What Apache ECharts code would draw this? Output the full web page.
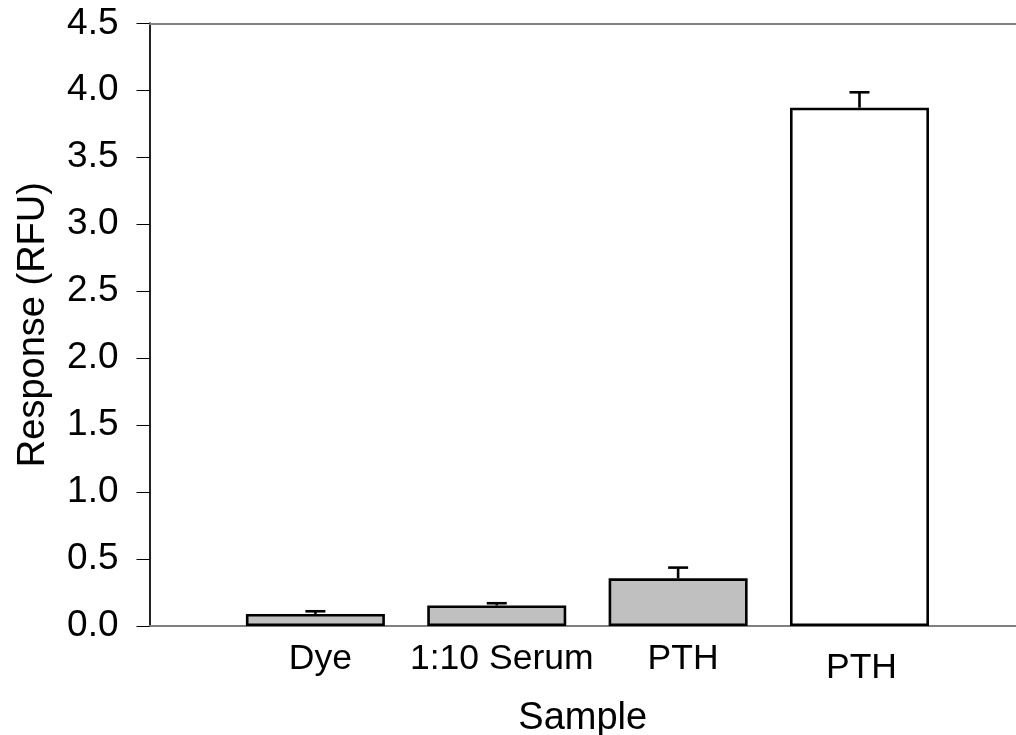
<!DOCTYPE html>
<html>
<head>
<meta charset="utf-8">
<script src="https://cdn.jsdelivr.net/npm/echarts@6/dist/echarts.min.js"></script>
<style>html,body{margin:0;padding:0;background:#fff;}#c{width:1016px;height:735px;}</style>
</head>
<body>
<div id="c"></div>
<script>
const categories = ['Dye', '1:10 Serum', 'PTH', 'PTH'];
const positions = [1, 2, 3, 4];
const values = [0.09, 0.153, 0.356, 3.87];
const errors = [0.02, 0.017, 0.08, 0.115];
const barColors = ['#c0c0c0', '#c0c0c0', '#c0c0c0', '#ffffff'];

const FONT = "'Liberation Sans', Arial, sans-serif";
const xMin = 0.0853, xMax = 4.863;

const chart = echarts.init(document.getElementById('c'), null, {renderer: 'canvas'});
const labelStyle = ['a', 'a', 'a', 'b'];

chart.setOption({
  animation: false,
  backgroundColor: '#fff',
  grid: {left: 149.5, top: 23.3, right: 0, bottom: 109, outerBoundsMode: 'none', containLabel: false},
  xAxis: [{
    type: 'value', min: xMin, max: xMax, position: 'bottom',
    splitLine: {show: false},
    axisLine: {show: true, onZero: false, lineStyle: {color: '#808080', width: 2}},
    axisTick: {show: false},
    axisLabel: {
      customValues: positions,
      margin: 15,
      fontFamily: FONT, fontSize: 35.5, color: '#000',
      formatter: function (v) {
        const i = positions.indexOf(Math.round(v));
        if (i < 0) return '';
        return '{' + labelStyle[i] + '|' + categories[i] + '}';
      },
      rich: {
        a: {fontFamily: FONT, fontSize: 35.5, color: '#000', padding: [0, 0, 0, 10]},
        b: {fontFamily: FONT, fontSize: 35.5, color: '#000', padding: [9, 0, 0, 4]}
      }
    },
    name: 'Sample', nameLocation: 'middle', nameGap: 74,
    nameTextStyle: {fontFamily: FONT, fontSize: 38, color: '#000'}
  }, {
    type: 'value', min: xMin, max: xMax, position: 'top',
    splitLine: {show: false},
    axisLine: {show: true, onZero: false, lineStyle: {color: '#808080', width: 2}},
    axisTick: {show: false}, axisLabel: {show: false}
  }],
  yAxis: {
    type: 'value', min: 0, max: 4.5, interval: 0.5,
    splitLine: {show: false},
    axisLine: {show: true, lineStyle: {color: '#222', width: 2}},
    axisTick: {show: true, inside: false, length: 13, lineStyle: {color: '#000', width: 1}},
    axisLabel: {
      margin: 31, fontFamily: FONT, fontSize: 37, color: '#000',
      formatter: function (v) { return v.toFixed(1); }
    },
    name: 'Response (RFU)', nameLocation: 'middle', nameGap: 97,
    nameTextStyle: {fontFamily: FONT, fontSize: 38, color: '#000'}
  },
  series: [{
    type: 'bar',
    xAxisIndex: 0,
    barWidth: 139,
    data: positions.map((p, i) => ({
      value: [p, values[i]],
      itemStyle: {color: barColors[i], borderColor: '#000', borderWidth: 2.6}
    })),
    z: 3
  }, {
    type: 'custom',
    xAxisIndex: 0,
    data: positions.map((p, i) => [p, values[i], errors[i]]),
    renderItem: function (params, api) {
      const x = api.value(0), v = api.value(1), e = api.value(2);
      const base = api.coord([x, v]);
      const top = api.coord([x, v + e]);
      const st = {stroke: '#000', lineWidth: 2.6};
      return {
        type: 'group',
        children: [
          {type: 'line', shape: {x1: base[0], y1: base[1], x2: top[0], y2: top[1]}, style: st},
          {type: 'line', shape: {x1: top[0] - 10, y1: top[1], x2: top[0] + 10, y2: top[1]}, style: st}
        ]
      };
    },
    z: 4
  }]
});
</script>
</body>
</html>
